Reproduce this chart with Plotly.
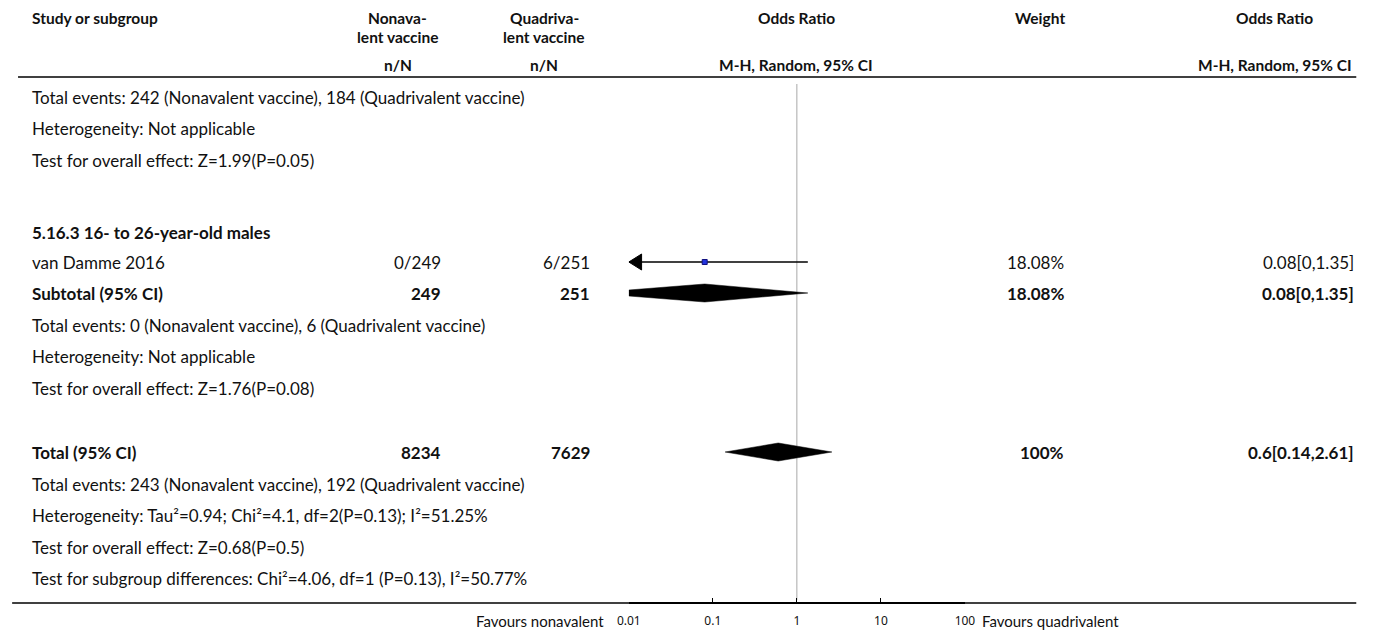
import plotly.graph_objects as go
import numpy as np

W, H = 1375, 635
OFF = 8  # page body margin in the browser

# ---------------- data ----------------
row_labels = [
    "Total events: 242 (Nonavalent vaccine), 184 (Quadrivalent vaccine)",
    "Heterogeneity: Not applicable",
    "Test for overall effect: Z=1.99(P=0.05)",
    "5.16.3 16- to 26-year-old males",
    "van Damme 2016",
    "Subtotal (95% CI)",
    "Total events: 0 (Nonavalent vaccine), 6 (Quadrivalent vaccine)",
    "Heterogeneity: Not applicable",
    "Test for overall effect: Z=1.76(P=0.08)",
    "Total (95% CI)",
    "Total events: 243 (Nonavalent vaccine), 192 (Quadrivalent vaccine)",
    "Heterogeneity: Tau²=0.94; Chi²=4.1, df=2(P=0.13); I²=51.25%",
    "Test for overall effect: Z=0.68(P=0.5)",
    "Test for subgroup differences: Chi²=4.06, df=1 (P=0.13), I²=50.77%",
]
row_bold = [False, False, False, True, False, True, False, False, False, True,
            False, False, False, False]
nonavalent_nN = ["", "", "", "", "0/249", "249", "", "", "", "8234", "", "", "", ""]
quadrivalent_nN = ["", "", "", "", "6/251", "251", "", "", "", "7629", "", "", "", ""]
weights = ["", "", "", "", "18.08%", "18.08%", "", "", "", "100%", "", "", "", ""]
or_text = ["", "", "", "", "0.08[0,1.35]", "0.08[0,1.35]", "", "", "",
           "0.6[0.14,2.61]", "", "", "", ""]

# forest estimates
study_or, study_lo, study_hi = 0.08, 0.0, 1.35
subtotal_or, subtotal_lo, subtotal_hi = 0.08, 0.0, 1.35
total_or, total_lo, total_hi = 0.6, 0.14, 2.61

tick_vals = [0.01, 0.1, 1, 10, 100]
tick_text = ["0.01", "0.1", "1", "10", "100"]

# ---------------- layout positions (screen pixels) ----------------
row_y = [97, 128, 160, 232, 262, 293, 325, 356, 388, 452, 484, 515, 547, 578]
STUDY_ROW, SUB_ROW, TOT_ROW = 4, 5, 9
x_left = 19
x_nona = 437
x_quad = 588
x_weight = 1070
x_or = 1365
ax_x0, ax_x1 = 626.7, 968.3
axis_y = 603
px_per_dec = (ax_x1 - ax_x0) / 4.0

FONT = "Lato, 'Source Sans Pro', 'Noto Sans', sans-serif"
FS = 17
FSB = 15.5
TXT = "#111111"

fig = go.Figure()

def px(v):
    return (v - OFF) / W

ann = []
def add_text(x, y, s, anchor="left", bold=False, size=None, family=FONT):
    if not s:
        return
    if size is None:
        size = FSB if bold else FS
    ann.append(dict(x=px(x), y=y, xref="paper", yref="y",
                    text=("<b>%s</b>" % s) if bold else s,
                    showarrow=False, xanchor=anchor, yanchor="middle", borderpad=0,
                    font=dict(family=family, size=size, color=TXT)))

# header
HY1, HY2, HY3 = 18, 37, 65
add_text(x_left, HY1, "Study or subgroup", bold=True)
add_text(392, HY1, "Nonava-", "center", True)
add_text(392, HY2, "lent vaccine", "center", True)
add_text(392, HY3, "n/N", "center", True)
add_text(541, HY1, "Quadriva-", "center", True)
add_text(541, HY2, "lent vaccine", "center", True)
add_text(541, HY3, "n/N", "center", True)
add_text(797, HY1, "Odds Ratio", "center", True)
add_text(797, HY3, "M-H, Random, 95% CI", "center", True)
add_text(1045, HY1, "Weight", "center", True)
add_text(1283, HY1, "Odds Ratio", "center", True)
add_text(1283, HY3, "M-H, Random, 95% CI", "center", True)

for i, y in enumerate(row_y):
    b = row_bold[i]
    add_text(x_left, y, row_labels[i], bold=b, size=FS)
    add_text(x_nona, y, nonavalent_nN[i], "right", b, size=FS)
    add_text(x_quad, y, quadrivalent_nN[i], "right", b, size=FS)
    add_text(x_weight, y, weights[i], "right", b, size=FS)
    add_text(x_or, y, or_text[i], "right", b, size=FS)

add_text(603, 621, "Favours nonavalent", "right", size=15)
add_text(985, 621, "Favours quadrivalent", "left", size=15)

axis_min, axis_max = tick_vals[0], tick_vals[-1]

def clip(v):
    return min(max(v, axis_min), axis_max) if v > 0 else axis_min

# reference line at OR = 1
fig.add_trace(go.Scatter(x=[1, 1], y=[84, 600], mode="lines",
                         line=dict(color="#a8a8a8", width=1), hoverinfo="skip"))

# study CI line with arrow on the clipped side
ys = row_y[STUDY_ROW]
fig.add_trace(go.Scatter(x=[clip(study_lo), clip(study_hi)], y=[ys, ys], mode="lines",
                         line=dict(color="black", width=1.3), hoverinfo="skip"))
if study_lo < axis_min:
    head_len = 10 ** (13 / px_per_dec)
    fig.add_trace(go.Scatter(x=[axis_min, axis_min * head_len, axis_min * head_len, axis_min],
                             y=[ys, ys - 8, ys + 8, ys], mode="lines", fill="toself",
                             fillcolor="black", line=dict(color="black", width=1),
                             hoverinfo="skip"))
fig.add_trace(go.Scatter(x=[study_or], y=[ys], mode="markers",
                         marker=dict(symbol="square", size=5, color="#2233dd",
                                     line=dict(color="#101080", width=1)),
                         hoverinfo="skip"))

def diamond(est, lo, hi, y, h=9):
    l = clip(lo)
    r = clip(hi)
    hl = 0 if lo >= axis_min else h / 3.0
    xs = [l, est, r, est, l, l]
    yy = [y - hl, y - h, y, y + h, y + hl, y - hl]
    fig.add_trace(go.Scatter(x=xs, y=yy, mode="lines", fill="toself", fillcolor="black",
                             line=dict(color="black", width=0.5), hoverinfo="skip"))

diamond(subtotal_or, subtotal_lo, subtotal_hi, row_y[SUB_ROW])
diamond(total_or, total_lo, total_hi, row_y[TOT_ROW])

shapes = [
    dict(type="line", xref="paper", yref="y", x0=px(6), x1=px(1366), y0=77, y1=77,
         line=dict(color="black", width=1.5)),
    dict(type="line", xref="paper", yref="y", x0=px(0), x1=px(1366), y0=axis_y, y1=axis_y,
         line=dict(color="black", width=1.5)),
]

fig.update_layout(
    width=W, height=H, margin=dict(l=0, r=0, t=0, b=0),
    paper_bgcolor="white", plot_bgcolor="rgba(0,0,0,0)",
    showlegend=False, annotations=ann, shapes=shapes,
    xaxis=dict(type="log", range=[np.log10(axis_min), np.log10(axis_max)],
               domain=[px(ax_x0), px(ax_x1)], anchor="free",
               position=(H - (axis_y - OFF)) / H,
               showline=True, linecolor="black", linewidth=1.5,
               ticks="inside", ticklen=4, tickcolor="black", tickwidth=1,
               tickvals=tick_vals, ticktext=tick_text, ticklabelstandoff=7,
               tickfont=dict(family="'Liberation Sans Narrow', 'Noto Sans', sans-serif",
                             size=12, color=TXT),
               showgrid=False, zeroline=False, fixedrange=True),
    yaxis=dict(range=[H + OFF, OFF], domain=[0, 1], visible=False, fixedrange=True),
)

fig.write_html("out.html")
